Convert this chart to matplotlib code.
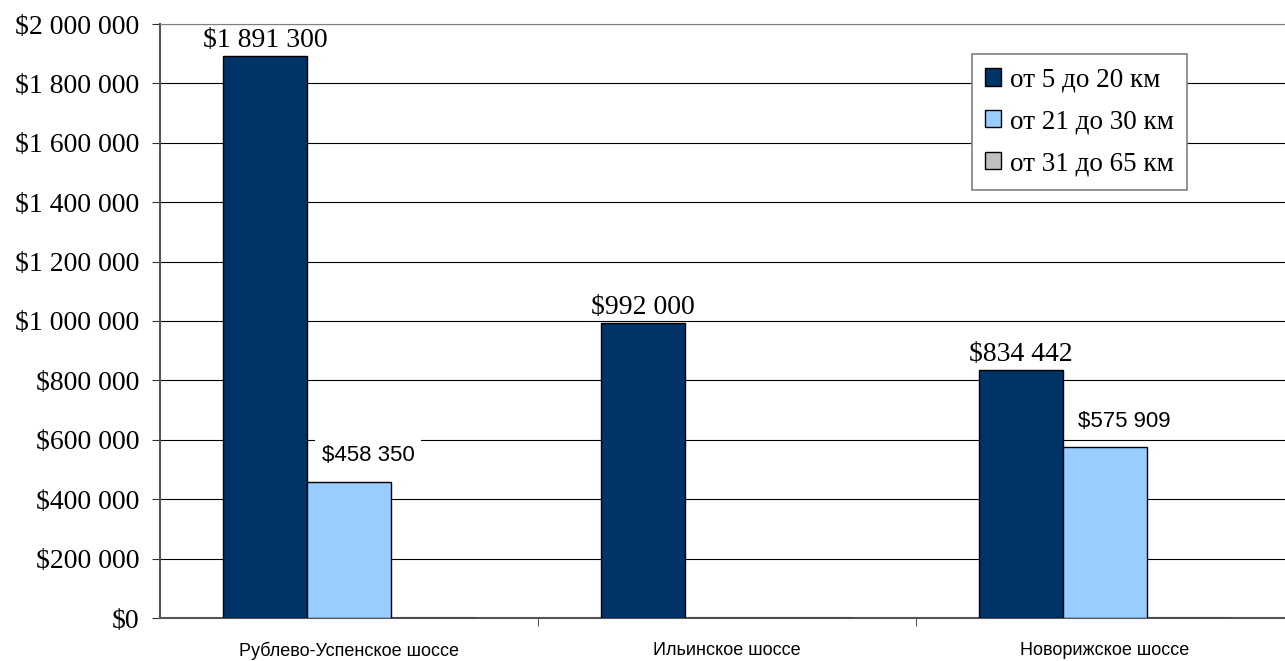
import numpy as np
import matplotlib
matplotlib.use("Agg")
import matplotlib.pyplot as plt
from matplotlib.ticker import FuncFormatter

# ── Data ─────────────────────────────────────────────────────────────────────
roads = ["Рублево-Успенское шоссе", "Ильинское шоссе", "Новорижское шоссе"]
series_names = ["от 5 до 20 км", "от 21 до 30 км", "от 31 до 65 км"]
near = [1891300, 992000, 834442]          # от 5 до 20 км
middle = [458350, 0, 575909]              # от 21 до 30 км
far = [0, 0, 0]                           # от 31 до 65 км
colors = ["#003366", "#99ccff", "#c0c0c0"]
y_ticks = np.arange(0, 2000001, 200000)

SERIF = "Liberation Serif"
SANS = "Liberation Sans"


def money(v, pos=None):
    return "$" + f"{int(v):,}".replace(",", " ")


# ── Figure ───────────────────────────────────────────────────────────────────
fig = plt.figure(figsize=(12.85, 6.61), dpi=100)
ax = fig.add_axes([160 / 1285, 1 - 618 / 661, 1134 / 1285, 594 / 661])

x = np.arange(len(roads))
w = 84 / 378
for i, vals in enumerate([near, middle, far]):
    ax.bar(x + (i - 1) * w, vals, w, color=colors[i], edgecolor="black",
           linewidth=1.0, label=series_names[i], zorder=3)

# data labels
for xi, v in zip(x, near):
    ax.text(xi - w, v + 10000, money(v), ha="center", va="bottom",
            fontsize=20, family=SERIF, zorder=5)
for xi, v in zip(x, middle):
    if v > 0:
        ax.text(xi + 0.05, v + 52000, money(v), ha="center", va="bottom",
                fontsize=16, family=SANS, zorder=5,
                bbox=dict(facecolor="white", edgecolor="none", pad=5))

# axes
ax.set_xlim(-0.5, 2.5)
ax.set_ylim(0, 2000000)
ax.set_yticks(y_ticks)
ax.yaxis.set_major_formatter(FuncFormatter(money))
ax.grid(axis="y", color="black", linewidth=0.8, zorder=0)
ax.set_xticks(x)
ax.set_xticklabels(roads, family=SANS, fontsize=13)
ax.set_xticks([0.5, 1.5, 2.5], minor=True)
ax.tick_params(axis="x", which="major", length=0, pad=17)
ax.tick_params(axis="x", which="minor", length=6, direction="out", color="#333333")
ax.tick_params(axis="y", length=6, direction="out", pad=9, color="#333333")
for lab in ax.get_yticklabels():
    lab.set_family(SERIF)
    lab.set_fontsize(20)

for s in ["left", "bottom"]:
    ax.spines[s].set_color("#555555")
    ax.spines[s].set_linewidth(1.5)
ax.spines["top"].set_color("#808080")
ax.spines["right"].set_visible(False)

leg = ax.legend(loc="upper right", bbox_to_anchor=(1187 / 1285, 1 - 54 / 661),
                bbox_transform=fig.transFigure, prop={"family": SERIF, "size": 19.5},
                frameon=True, fancybox=False, framealpha=1, edgecolor="#808080",
                handlelength=0.6, handleheight=0.6, handletextpad=0.3,
                labelspacing=0.62, borderpad=0.5, borderaxespad=0)
leg.get_frame().set_linewidth(1.2)
leg.set_zorder(6)

fig.savefig("out.png", dpi=100)
